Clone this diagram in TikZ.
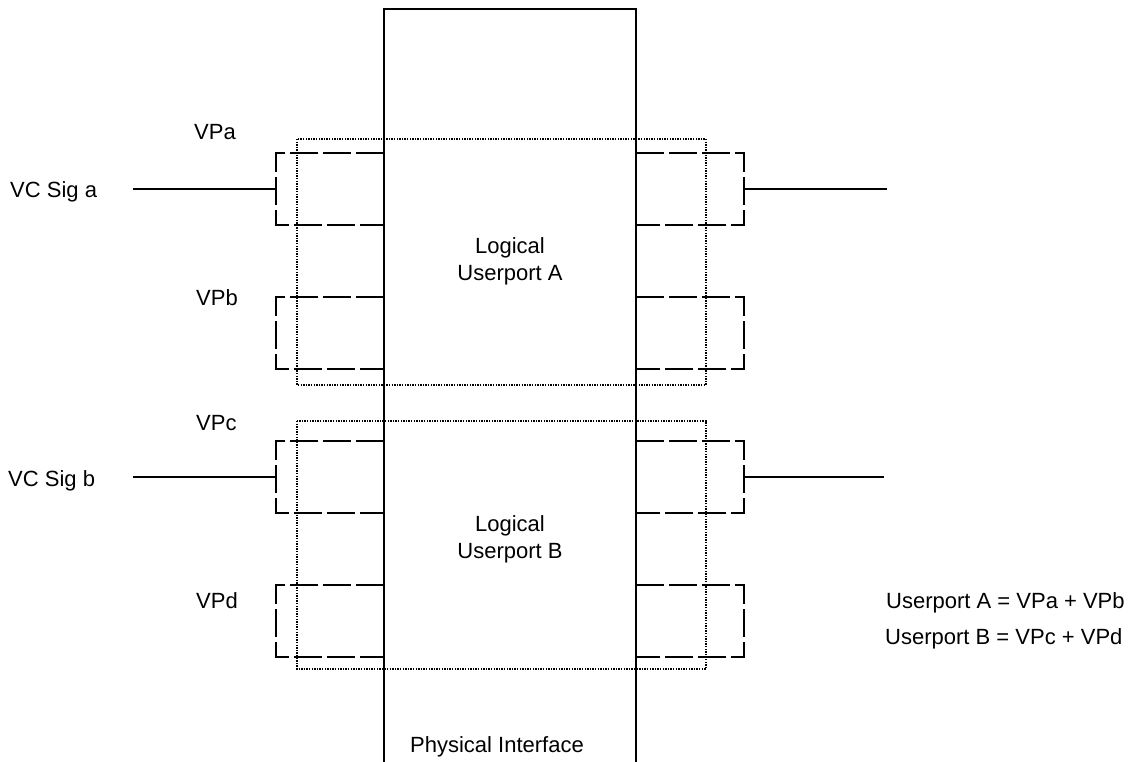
\documentclass[tikz,border=0pt]{standalone}
\usepackage{fontspec}
\setmainfont{Liberation Sans}
\begin{document}
\begin{tikzpicture}[x=1pt,y=-1pt,
  solidline/.style={line width=1.1pt,black},
  vpbracket/.style={line width=1.1pt,black,dash pattern=on 28pt off 5pt},
  dotbox/.style={line width=1.3pt,black,dash pattern=on 1.4pt off 1.2pt},
  lbl/.style={font=\fontsize{22}{27}\selectfont,inner sep=0pt,anchor=base west},
  clbl/.style={font=\fontsize{22}{27}\selectfont,inner sep=0pt,anchor=base,align=center}]
\useasboundingbox (0,0) rectangle (1135,762);
% physical interface
\draw[solidline] (384,762) -- (384,9) -- (636,9) -- (636,762);
% dotted logical userport boxes
\draw[dotbox] (297,139) rectangle (706,385);
\draw[dotbox] (297,421) rectangle (706,669);
% VP brackets
\foreach \t in {153,297,441,585}{
  \draw[vpbracket] (384,\t) -- (276,\t) -- (276,\t+72) -- (384,\t+72);
  \draw[vpbracket] (636,\t) -- (744,\t) -- (744,\t+72) -- (636,\t+72);
}
% signal connectors
\coordinate (siga) at (133,189);
\coordinate (sigaR) at (887,189);
\coordinate (sigb) at (133,477);
\coordinate (sigbR) at (884,477);
\coordinate (vpaL) at (276,189);
\coordinate (vpaR) at (744,189);
\coordinate (vpcL) at (276,477);
\coordinate (vpcR) at (744,477);
\draw[solidline] (siga) -- (vpaL);
\draw[solidline] (vpaR) -- (sigaR);
\draw[solidline] (sigb) -- (vpcL);
\draw[solidline] (vpcR) -- (sigbR);
% labels
\node[lbl] (tvpa) at (194,140) {VPa};
\node[lbl] (tsiga) at (10,198) {VC Sig a};
\node[clbl] (tla1) at (510,253) {Logical};
\node[clbl] (tla2) at (510,280) {Userport A};
\node[lbl] (tvpb) at (196,305) {VPb};
\node[lbl] (tvpc) at (196,430) {VPc};
\node[lbl] (tsigb) at (8,486) {VC Sig b};
\node[clbl] (tlb1) at (510,531) {Logical};
\node[clbl] (tlb2) at (510,558) {Userport B};
\node[lbl] (tvpd) at (196,608) {VPd};
\node[lbl] (teqa) at (886,608) {Userport A = VPa + VPb};
\node[lbl] (teqb) at (885,644) {Userport B = VPc + VPd};
\node[clbl] (tphys) at (497,752) {Physical Interface};
\end{tikzpicture}
\end{document}
